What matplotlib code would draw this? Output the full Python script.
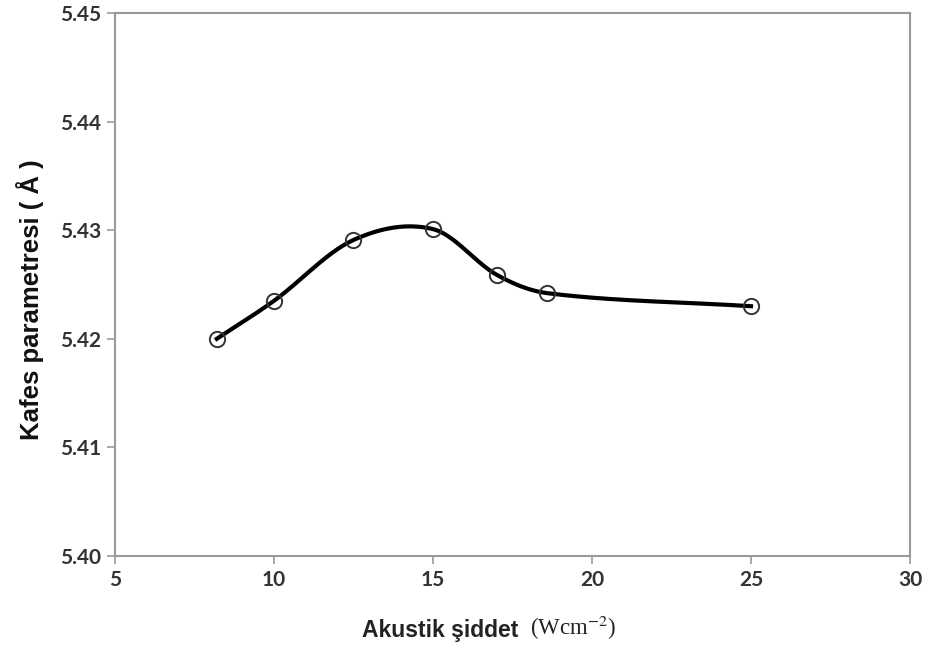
import numpy as np
import matplotlib.pyplot as plt

# data
siddet = [8.2, 10.0, 12.5, 15.0, 17.0, 18.6, 25.0]
kafes = [5.4200, 5.4235, 5.4291, 5.4301, 5.4259, 5.4242, 5.4230]

x_ticks = [5, 10, 15, 20, 25, 30]
y_ticks = [5.40, 5.41, 5.42, 5.43, 5.44, 5.45]


#----------------
#Smooth curve through the points (cubic Hermite in x)

def smooth(xs, ys, n=60):
    x = np.array(xs, dtype=float)
    y = np.array(ys, dtype=float)
    m = np.zeros(len(x))
    m[1:-1] = (y[2:] - y[:-2]) / (x[2:] - x[:-2])
    m[0] = (y[1] - y[0]) / (x[1] - x[0])
    m[-1] = (y[-1] - y[-2]) / (x[-1] - x[-2])
    outx, outy = [], []
    t = np.linspace(0, 1, n)
    for i in range(len(x) - 1):
        h = x[i+1] - x[i]
        h00 = 2*t**3 - 3*t**2 + 1
        h10 = t**3 - 2*t**2 + t
        h01 = -2*t**3 + 3*t**2
        h11 = t**3 - t**2
        outx.extend(x[i] + h*t)
        outy.extend(h00*y[i] + h10*h*m[i] + h01*y[i+1] + h11*h*m[i+1])
    return outx, outy


fig = plt.figure(figsize=(9.29, 6.48), dpi=100)
ax = fig.add_axes([115/929, 92/648, 795/929, 543/648])

sx, sy = smooth(siddet, kafes)
ax.plot(sx, sy, color='black', lw=3, zorder=2)
ax.plot(siddet, kafes, 'o', ms=11, mfc='none', mec='#333333', mew=1.4, zorder=3)

ax.set_xlim(5, 30)
ax.set_ylim(5.40, 5.45)
ax.set_xticks(x_ticks)
ax.set_yticks(y_ticks)
ax.set_xticklabels([str(v) for v in x_ticks])
ax.set_yticklabels(['%.2f' % v for v in y_ticks])

for s in ax.spines.values():
    s.set_color('#999999')
    s.set_linewidth(1.5)
ax.tick_params(direction='out', length=6, width=1.2, color='#999999',
               labelsize=15, labelcolor='#333333', pad=4)
for lab in ax.get_xticklabels() + ax.get_yticklabels():
    lab.set_fontfamily('Lato')
    lab.set_fontweight('bold')

ax.set_ylabel('Kafes parametresi ( Å )', fontsize=18.5, fontweight='bold',
              family='Liberation Sans', color='#111111')
ax.yaxis.set_label_coords(-0.089, 0.472)

fig.text(440/929, 6/648, 'Akustik şiddet', ha='center', va='bottom', fontsize=16.5,
         fontweight='bold', family='Liberation Sans', color='#222222')
fig.text(573/929, 6/648, '(Wcm$^{-2}$)', ha='center', va='bottom', fontsize=16.5,
         family='Liberation Serif', color='#222222', math_fontfamily='stix')

fig.savefig('out.png', dpi=100)
